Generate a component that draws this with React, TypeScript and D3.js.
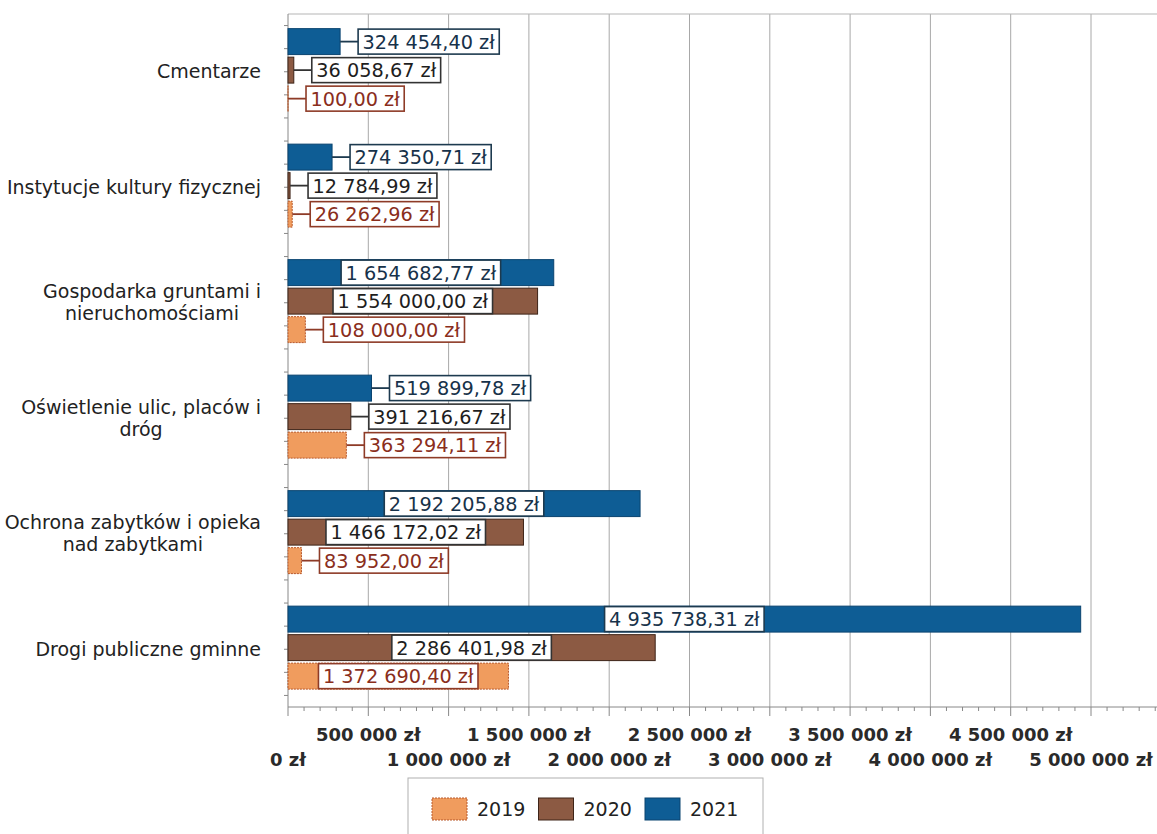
import * as d3 from 'd3'
import {useEffect, useRef} from 'react'

const categories = [
  'Cmentarze',
  'Instytucje kultury fizycznej',
  'Gospodarka gruntami i\nnieruchomościami',
  'Oświetlenie ulic, placów i\ndróg',
  'Ochrona zabytków i opieka\nnad zabytkami',
  'Drogi publiczne gminne',
]
const years = ['2021', '2020', '2019']
const values2019 = [100.0, 26262.96, 108000.0, 363294.11, 83952.0, 1372690.4]
const values2020 = [36058.67, 12784.99, 1554000.0, 391216.67, 1466172.02, 2286401.98]
const values2021 = [324454.4, 274350.71, 1654682.77, 519899.78, 2192205.88, 4935738.31]
const tickValues = [0, 500000, 1000000, 1500000, 2000000, 2500000, 3000000, 3500000, 4000000, 4500000, 5000000]
const legendYears = ['2019', '2020', '2021']

const styles: Record<string, {fill: string; stroke: string; box: string; text: string; dash?: string}> = {
  '2021': {fill: '#0e5d95', stroke: '#0a4470', box: '#1d3a4f', text: '#17324a'},
  '2020': {fill: '#8c5a43', stroke: '#3e2418', box: '#333333', text: '#1e1e1e'},
  '2019': {fill: '#f09c5e', stroke: '#b8582a', box: '#8e3b27', text: '#8a2e1c', dash: '2,1'},
}

const pl = d3.formatLocale({decimal: ',', thousands: '\u00a0', grouping: [3], currency: ['', ' zł']})
const fmtValue = (v: number) => pl.format(',.2f')(v) + ' zł'
const fmtTick = (v: number) => pl.format(',.0f')(v) + ' zł'

const FONT = '"DejaVu Sans", Verdana, sans-serif'

export default function App() {
  const ref = useRef<SVGSVGElement>(null)

  useEffect(() => {
    const svg = d3.select(ref.current)
    svg.selectAll('*').remove()

    const left = 288
    const top = 14
    const bottom = 707
    const x = d3.scaleLinear().domain([0, 5000000]).range([left, 1091])
    const y = d3.scaleBand().domain(categories).range([top, bottom]).padding(0)
    const yi = d3.scaleBand().domain(years).range([0, y.bandwidth()]).paddingInner(0.09).paddingOuter(0.57).align(0.45)

    const series: Record<string, number[]> = {'2019': values2019, '2020': values2020, '2021': values2021}

    // grid
    const grid = svg.append('g')
    grid
      .selectAll('line.v')
      .data(tickValues.slice(1).concat([5500000]))
      .enter()
      .append('line')
      .attr('x1', d => x(d))
      .attr('x2', d => x(d))
      .attr('y1', top)
      .attr('y2', bottom)
      .attr('stroke', '#a8a8a8')
      .attr('stroke-width', 1)
    grid
      .append('line')
      .attr('x1', left)
      .attr('x2', 1157)
      .attr('y1', top)
      .attr('y2', top)
      .attr('stroke', '#b5b5b5')

    // x axis
    const minor = d3.range(0, 5500001, 100000)
    const axis = svg.append('g')
    axis.append('line').attr('x1', left).attr('x2', 1157).attr('y1', bottom).attr('y2', bottom).attr('stroke', '#888')
    axis
      .selectAll('line.t')
      .data(minor)
      .enter()
      .append('line')
      .attr('x1', d => x(d))
      .attr('x2', d => x(d))
      .attr('y1', bottom)
      .attr('y2', d => bottom + (d % 500000 === 0 ? 9 : 4))
      .attr('stroke', '#888')
    axis
      .selectAll('text')
      .data(tickValues)
      .enter()
      .append('text')
      .attr('x', d => x(d))
      .attr('y', (_, i) => (i % 2 === 1 ? 741 : 766))
      .attr('text-anchor', 'middle')
      .attr('font-family', FONT)
      .attr('font-size', 18)
      .attr('font-weight', 'bold')
      .attr('fill', '#2a2a2a')
      .text(d => fmtTick(d))

    // y axis
    axis.append('line').attr('x1', left).attr('x2', left).attr('y1', top).attr('y2', bottom).attr('stroke', '#888')
    const h = (bottom - top) / 30
    axis
      .selectAll('line.yt')
      .data(d3.range(30))
      .enter()
      .append('line')
      .attr('x1', left - 4)
      .attr('x2', left)
      .attr('y1', m => top + (m + 0.5) * h)
      .attr('y2', m => top + (m + 0.5) * h)
      .attr('stroke', '#888')

    // category labels
    categories.forEach(cat => {
      const lines = cat.split('\n')
      const cy = (y(cat) || 0) + y.bandwidth() / 2
      const g = svg.append('g')
      const texts = lines.map((line, i) =>
        g
          .append('text')
          .attr('y', cy + 6.5 + (i - (lines.length - 1) / 2) * 22)
          .attr('font-family', FONT)
          .attr('font-size', 19)
          .attr('fill', '#222')
          .attr('text-anchor', 'middle')
          .text(line),
      )
      const maxW = d3.max(texts, t => (t.node() as SVGTextElement).getComputedTextLength()) || 0
      texts.forEach(t => t.attr('x', 261 - maxW / 2))
    })

    // bars
    years.forEach(yr => {
      const st = styles[yr]
      categories.forEach((cat, ci) => {
        const v = series[yr][ci]
        const by = (y(cat) || 0) + (yi(yr) || 0)
        const bh = yi.bandwidth()
        const bw = x(v) - left
        svg
          .append('rect')
          .attr('x', left)
          .attr('y', by)
          .attr('width', bw)
          .attr('height', bh)
          .attr('fill', st.fill)
          .attr('stroke', st.stroke)
          .attr('stroke-width', 1)
          .attr('stroke-dasharray', st.dash || null)
      })
    })

    // value labels
    years.forEach(yr => {
      const st = styles[yr]
      categories.forEach((cat, ci) => {
        const v = series[yr][ci]
        const by = (y(cat) || 0) + (yi(yr) || 0)
        const bh = yi.bandwidth()
        const cy = by + bh / 2
        const end = x(v)
        const g = svg.append('g')
        const txt = g
          .append('text')
          .attr('font-family', FONT)
          .attr('font-size', 19.3)
          .attr('fill', st.text)
          .attr('y', cy + 7)
          .text(fmtValue(v))
        const tw = (txt.node() as SVGTextElement).getComputedTextLength()
        const boxW = tw + 9
        const boxH = 25
        let bx: number
        if (boxW + 20 < end - left) {
          bx = (left + end) / 2 - boxW / 2
        } else {
          bx = end + 18
          g.insert('line', 'text')
            .attr('x1', end)
            .attr('x2', bx)
            .attr('y1', cy)
            .attr('y2', cy)
            .attr('stroke', st.box)
            .attr('stroke-width', 1.8)
        }
        g.insert('rect', 'text')
          .attr('x', bx)
          .attr('y', cy - boxH / 2)
          .attr('width', boxW)
          .attr('height', boxH)
          .attr('fill', '#fff')
          .attr('stroke', st.box)
          .attr('stroke-width', 1.6)
        txt.attr('x', bx + 4.5)
      })
    })

    // legend
    const lg = svg.append('g')
    lg.append('rect').attr('x', 408).attr('y', 778).attr('width', 355).attr('height', 70).attr('fill', '#fff').attr('stroke', '#b0b0b0')
    const lx = d3.scalePoint().domain(legendYears).range([432, 645])
    legendYears.forEach(yr => {
      const st = styles[yr]
      lg.append('rect')
        .attr('x', lx(yr) || 0)
        .attr('y', 798)
        .attr('width', 35)
        .attr('height', 22)
        .attr('fill', st.fill)
        .attr('stroke', st.stroke)
        .attr('stroke-dasharray', st.dash || null)
      lg.append('text')
        .attr('x', (lx(yr) || 0) + 45)
        .attr('y', 816)
        .attr('font-family', FONT)
        .attr('font-size', 19)
        .attr('fill', '#222')
        .text(yr)
    })
  }, [])

  return (
    <div style={{position: 'absolute', left: 0, top: 0}}>
      <svg ref={ref} width={1157} height={834} style={{display: 'block', background: '#fff'}} />
    </div>
  )
}
